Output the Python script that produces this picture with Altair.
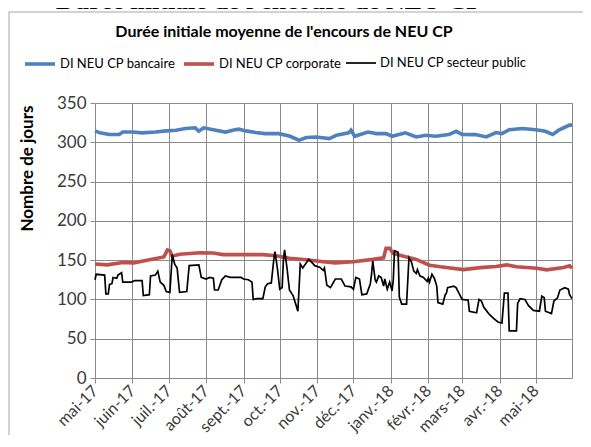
import json
import altair as alt
import pandas as pd

# ---------------- data ----------------
series_names = ["DI NEU CP bancaire", "DI NEU CP corporate", "DI NEU CP secteur public"]
series_colors = ["#4F81BD", "#C0504D", "#000000"]
series_widths = [3.6, 3.6, 1.7]

bank_dates = ["2017-05-01", "2017-05-05", "2017-05-13", "2017-05-21", "2017-05-24", "2017-06-01",
              "2017-06-09", "2017-06-20", "2017-06-29", "2017-07-07", "2017-07-15", "2017-07-23",
              "2017-07-26", "2017-07-30", "2017-08-09", "2017-08-17", "2017-08-23", "2017-08-28",
              "2017-09-03", "2017-09-11", "2017-09-19", "2017-09-30", "2017-10-09", "2017-10-17",
              "2017-10-23", "2017-10-31", "2017-11-11", "2017-11-17", "2017-11-27", "2017-11-29",
              "2017-12-02", "2017-12-13", "2017-12-20", "2017-12-28", "2018-01-02", "2018-01-13",
              "2018-01-22", "2018-01-30", "2018-02-07", "2018-02-18", "2018-02-24", "2018-03-01",
              "2018-03-12", "2018-03-21", "2018-03-29", "2018-04-03", "2018-04-09", "2018-04-20",
              "2018-05-01", "2018-05-09", "2018-05-15", "2018-05-20", "2018-05-29", "2018-05-31"]
bank_values = [314.5, 312, 310, 310, 313, 313, 312, 313, 314.5, 315.4, 317.5, 318.4,
               314, 318.4, 315.4, 313, 315.4, 316.7, 314.5, 312.4, 311, 311, 308, 302.6,
               306, 306.8, 304.7, 309, 312, 315.4, 307.7, 313, 311, 311, 307.7, 312,
               306.8, 309, 307.7, 309.8, 314, 310, 309.8, 306.8, 312.4, 311, 316, 317.5,
               316, 314, 310, 315.4, 321.8, 321.8]

corp_dates = ["2017-05-01", "2017-05-11", "2017-05-24", "2017-06-02", "2017-06-13", "2017-06-27",
              "2017-06-30", "2017-07-02", "2017-07-04", "2017-07-10", "2017-07-27", "2017-08-07",
              "2017-08-15", "2017-09-01", "2017-09-17", "2017-09-28", "2017-10-09", "2017-10-23",
              "2017-11-06", "2017-11-16", "2017-12-01", "2017-12-17", "2017-12-26", "2017-12-28",
              "2017-12-31", "2018-01-03", "2018-01-14", "2018-01-22", "2018-02-02", "2018-02-11",
              "2018-03-02", "2018-03-16", "2018-03-29", "2018-04-07", "2018-04-15", "2018-05-02",
              "2018-05-10", "2018-05-24", "2018-05-29", "2018-05-31"]
corp_values = [145, 144, 147, 146.5, 150, 154, 163, 162, 155, 157.5, 159.5, 159,
               157, 157, 157, 155.5, 152.5, 150.5, 148, 146.5, 148, 151, 153, 165,
               165, 158.5, 154, 151, 143.5, 141.5, 138, 140.5, 142, 144, 141.5, 139.7,
               137.6, 140.6, 142.7, 139.7]

pub_dates = ["2017-05-01", "2017-05-02", "2017-05-09", "2017-05-10", "2017-05-12", "2017-05-13",
             "2017-05-15", "2017-05-16", "2017-05-19", "2017-05-20", "2017-05-23", "2017-05-24",
             "2017-05-31", "2017-06-03", "2017-06-09", "2017-06-10", "2017-06-15", "2017-06-16",
             "2017-06-20", "2017-06-22", "2017-06-24", "2017-06-27", "2017-06-29", "2017-07-02",
             "2017-07-04", "2017-07-06", "2017-07-08", "2017-07-10", "2017-07-16", "2017-07-18",
             "2017-07-26", "2017-07-28", "2017-08-01", "2017-08-04", "2017-08-07", "2017-08-08",
             "2017-08-11", "2017-08-14", "2017-08-17", "2017-08-21", "2017-08-30", "2017-09-01",
             "2017-09-05", "2017-09-08", "2017-09-09", "2017-09-12", "2017-09-17", "2017-09-19",
             "2017-09-21", "2017-09-24", "2017-09-26", "2017-09-27", "2017-09-29", "2017-10-01",
             "2017-10-03", "2017-10-04", "2017-10-05", "2017-10-07", "2017-10-09", "2017-10-12",
             "2017-10-14", "2017-10-16", "2017-10-18", "2017-10-20", "2017-10-25", "2017-10-27",
             "2017-10-30", "2017-11-03", "2017-11-06", "2017-11-07", "2017-11-09", "2017-11-12",
             "2017-11-16", "2017-11-21", "2017-11-24", "2017-11-29", "2017-12-01", "2017-12-03",
             "2017-12-06", "2017-12-08", "2017-12-12", "2017-12-15", "2017-12-16", "2017-12-17",
             "2017-12-19", "2017-12-20", "2017-12-22", "2017-12-24", "2017-12-26", "2017-12-27",
             "2017-12-29", "2017-12-31", "2018-01-02", "2018-01-03", "2018-01-04", "2018-01-07",
             "2018-01-08", "2018-01-10", "2018-01-14", "2018-01-16", "2018-01-18", "2018-01-20",
             "2018-01-22", "2018-01-23", "2018-01-25", "2018-01-28", "2018-01-31", "2018-02-01",
             "2018-02-02", "2018-02-04", "2018-02-06", "2018-02-08", "2018-02-09", "2018-02-13",
             "2018-02-15", "2018-02-16", "2018-02-17", "2018-02-22", "2018-02-24", "2018-02-27",
             "2018-03-01", "2018-03-06", "2018-03-07", "2018-03-13", "2018-03-15", "2018-03-17",
             "2018-03-19", "2018-03-23", "2018-03-27", "2018-03-31", "2018-04-03", "2018-04-05",
             "2018-04-08", "2018-04-09", "2018-04-15", "2018-04-16", "2018-04-18", "2018-04-22",
             "2018-04-25", "2018-04-29", "2018-05-04", "2018-05-06", "2018-05-08", "2018-05-09",
             "2018-05-14", "2018-05-16", "2018-05-19", "2018-05-21", "2018-05-25", "2018-05-28",
             "2018-05-29", "2018-05-31"]
pub_values = [125, 132, 131, 107, 107, 119,
              120, 128, 127, 131, 134, 122,
              122, 124, 124, 105, 106, 130,
              131, 136, 122, 118, 110, 109,
              157, 145, 140, 109, 110, 143,
              144, 128, 126, 128, 127, 112,
              112, 125, 130, 128, 128, 126,
              125, 122, 100, 101, 101, 116,
              120, 121, 150, 161, 140, 113,
              115, 150, 163, 140, 112, 105,
              95, 85, 145, 140, 151, 148,
              143, 141, 137, 140, 118, 115,
              126, 126, 117, 116, 113, 128,
              126, 106, 107, 120, 132, 149,
              125, 122, 130, 128, 117, 126,
              113, 122, 111, 125, 162, 160,
              103, 94, 94, 153, 148, 136,
              133, 138, 130, 128, 123, 127,
              122, 132, 127, 117, 96, 94,
              106, 108, 115, 117, 115, 106,
              100, 99, 85, 83, 100, 98,
              90, 82, 76, 71, 70, 108,
              108, 60, 60, 95, 101, 100,
              92, 86, 85, 104, 102, 85,
              82, 98, 102, 112, 115, 113,
              106, 101]

month_ticks = ["2017-05-01", "2017-06-01", "2017-07-01", "2017-08-01", "2017-09-01", "2017-10-01",
               "2017-11-01", "2017-12-01", "2018-01-01", "2018-02-01", "2018-03-01", "2018-04-01",
               "2018-05-01"]
month_labels = ["mai-17", "juin-17", "juil.-17", "août-17", "sept.-17", "oct.-17", "nov.-17",
                "déc.-17", "janv.-18", "févr.-18", "mars-18", "avr.-18", "mai-18"]
x_domain = ["2017-05-01", "2018-05-31"]
y_ticks = [0, 50, 100, 150, 200, 250, 300, 350]

outer_title = "Durée initiale de l'encours de NEU CP"
chart_title = "Durée initiale moyenne de l'encours de NEU CP"
y_title = "Nombre de jours"

# ---------------- build table ----------------
rows = []
for name, dates, vals in zip(series_names,
                             [bank_dates, corp_dates, pub_dates],
                             [bank_values, corp_values, pub_values]):
    for d, v in zip(dates, vals):
        rows.append({"date": d, "value": v, "series": name})
df = pd.DataFrame(rows)


def ms(s):
    return int(pd.Timestamp(s, tz="UTC").value // 10**6)


tick_ms = [ms(s) for s in month_ticks]
dom_ms = [ms(s) for s in x_domain]
label_expr = (json.dumps(month_labels, ensure_ascii=False)
              + "[(utcyear(datum.value)-2017)*12 + utcmonth(datum.value) - 4]")

FONT = "Lato"
GRID = "#8a8a8a"
TXT = "#3a3a3a"

x_enc = alt.X("date:T",
              scale=alt.Scale(type="utc", domain=dom_ms, nice=False),
              axis=alt.Axis(values=tick_ms, labelExpr=label_expr, title=None,
                            labelAngle=315, labelAlign="right", labelBaseline="middle",
                            labelPadding=5, labelFontSize=16, labelColor=TXT,
                            tickSize=5, tickColor=GRID, domainColor=GRID,
                            grid=True, gridColor=GRID, labelOverlap=False))
y_enc = alt.Y("value:Q",
              scale=alt.Scale(domain=[0, 350], nice=False),
              axis=alt.Axis(values=y_ticks, title=y_title, titleFont=FONT, titleFontSize=17,
                            titleFontWeight="bold", titleColor="#000",
                            titleX=-59, titleY=2, titleAlign="right", titleBaseline="bottom",
                            labelFontSize=17, labelColor=TXT, labelPadding=4,
                            tickSize=5, tickColor=GRID, domainColor=GRID,
                            grid=True, gridColor=GRID))

legend = alt.Legend(title=None, orient="none", legendX=-72, legendY=-56,
                    direction="horizontal", symbolType="stroke", symbolSize=900,
                    labelFont=FONT, labelFontSize=13, labelColor="#000",
                    labelOffset=3, columnPadding=0, gridAlign="none", padding=0)

color_enc = alt.Color("series:N", scale=alt.Scale(domain=series_names, range=series_colors),
                      legend=legend)
width_enc = alt.StrokeWidth("series:N",
                            scale=alt.Scale(type="ordinal", domain=series_names,
                                            range=series_widths),
                            legend=legend)

base = alt.Chart(df)
lines = [
    base.transform_filter(alt.datum.series == name).mark_line(interpolate="linear").encode(
        x=x_enc, y=y_enc, color=color_enc, strokeWidth=width_enc)
    for name in series_names
]

one = pd.DataFrame({"t": [chart_title], "o": [outer_title]})
frame = alt.Chart(one).mark_rect(fillOpacity=0, stroke="#c4c4c4", strokeWidth=1.5).encode(
    x=alt.value(-86), x2=alt.value(620), y=alt.value(-91), y2=alt.value(420))
title_txt = alt.Chart(one).mark_text(font=FONT, fontSize=16, fontWeight="bold", color="#000",
                                     align="center", baseline="alphabetic").encode(
    text="t:N", x=alt.value(189), y=alt.value(-66))
outer_txt = alt.Chart(one).mark_text(font="Liberation Serif", fontSize=26, fontWeight="bold",
                                     color="#000", align="center", baseline="alphabetic").encode(
    text="o:N", x=alt.value(174), y=alt.value(-94))

chart = alt.layer(frame, *lines, title_txt, outer_txt).properties(
    width=477, height=275,
    autosize=alt.AutoSizeParams(type="none"),
    padding={"left": 87, "top": 95, "right": 11, "bottom": 57},
).configure(font=FONT).configure_view(stroke=GRID, strokeWidth=1)

chart.save("out.html", embed_options={"renderer": "svg", "actions": False})
